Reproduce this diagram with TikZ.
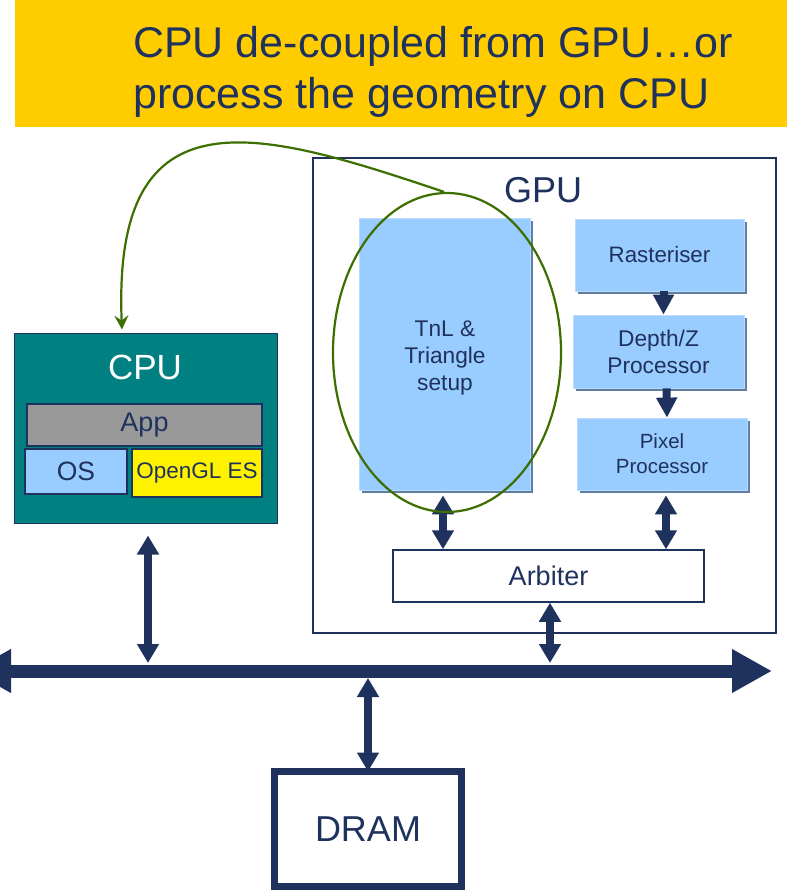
\documentclass[tikz,border=0pt]{standalone}
\usepackage{fontspec}
\setmainfont{Liberation Sans}
\usetikzlibrary{shapes.geometric, arrows.meta, positioning}
\definecolor{navy}{RGB}{31,50,94}
\definecolor{banner}{RGB}{255,204,0}
\definecolor{cputeal}{RGB}{0,128,128}
\definecolor{unitblue}{RGB}{153,204,255}
\definecolor{unitshade}{RGB}{96,126,160}
\definecolor{appgray}{RGB}{153,153,153}
\definecolor{loopgreen}{RGB}{60,110,0}
\tikzset{
    x=1pt, y=-1pt, % pixel units, y grows downwards
    every node/.style={inner sep=0pt, text=navy, align=center}, % plain text nodes
    sized/.style 2 args={minimum width=#1pt, minimum height=#2pt}, % box size
    frame/.style={draw=navy, line width=1.5pt}, % thin dark outline
    unit/.style={fill=unitblue, draw=unitblue!70!white, line width=0.8pt,
        preaction={fill=unitshade, transform canvas={shift={(3pt,-3pt)}}}}, % shaded GPU stage
    flow/.style={draw=navy, line width=8pt, -{Triangle[width=20pt,length=20pt]}}, % block arrow
    both/.style={draw=navy, line width=8pt, {Triangle[width=21pt,length=19pt]}-{Triangle[width=21pt,length=19pt]}}, % two-way arrow
}
\begin{document}
\begin{tikzpicture}
\useasboundingbox (0,0) rectangle (787,890);
% title banner
\node[fill=banner, sized={772}{127}] (banner) at (401,63.5) {};
\node[anchor=west, align=left, font=\fontsize{43}{51}\selectfont] (title) at (133,72)
    {CPU de-coupled from GPU…or\\process the geometry on CPU};

% CPU side
\node[frame, fill=cputeal, line width=1pt, sized={263}{190}] (cpu) at (145.5,428) {};
\node[text=white, font=\fontsize{35}{40}\selectfont] (cpulabel) at (145,367) {CPU};
\node[frame, fill=appgray, sized={235}{42}, font=\fontsize{27}{30}\selectfont] (app) at (144.5,425) {App};
\node[frame, fill=unitblue, sized={102}{45}, font=\fontsize{26.5}{30}\selectfont] (os) at (76,471.5) {OS};
\node[frame, fill=yellow, sized={130}{48}, font=\fontsize{22.5}{26}\selectfont] (gles) at (197,473) {OpenGL ES};

% GPU side
\node[frame, fill=white, sized={463}{475}] (gpu) at (544.5,395.5) {};
\node[font=\fontsize{36}{40}\selectfont] (gpulabel) at (543,190) {GPU};
\node[unit, sized={171}{272}] (tnl) at (444.5,354) {};
\node[font=\fontsize{22.7}{27}\selectfont] (tnltext) at (445,358) {TnL \&\\Triangle\\setup};
\node[unit, sized={169}{72}, font=\fontsize{22.3}{27}\selectfont] (rast) at (659.5,255) {Rasteriser};
\node[unit, sized={171}{73}, font=\fontsize{22.7}{27}\selectfont] (depth) at (658.5,351.5) {Depth/Z\\Processor};
\node[unit, sized={170}{72}, font=\fontsize{20.5}{25}\selectfont] (pixel) at (662,454) {Pixel\\Processor};
\node[frame, fill=white, sized={311}{52}, font=\fontsize{27}{30}\selectfont] (arbiter) at (548.5,576) {Arbiter};

% memory
\node[draw=navy, line width=7pt, sized={187}{115}, font=\fontsize{36}{40}\selectfont] (dram) at (368,829) {DRAM};

% bus
\coordinate (busL) at (-29,671);
\coordinate (busR) at (772,671);
\coordinate (bustop) at (0,663);
\coordinate (busbot) at (0,678);
\draw[navy, line width=13pt, {Triangle[width=41pt,length=40pt]}-{Triangle[width=41pt,length=40pt]}] (busL) -- (busR);

% pipeline arrows
\draw[flow] ([xshift=4pt]rast.south) -- ([xshift=5pt]depth.north);
\draw[flow] ([xshift=8pt]depth.south) -- ([xshift=5pt]pixel.north);
\draw[both] ([yshift=-5pt]tnl.south -| 443,0) -- (arbiter.north -| 443,0);
\draw[both] ([yshift=-5pt]pixel.south -| 666,0) -- (arbiter.north -| 666,0);
\draw[both] (arbiter.south -| 550,0) -- (bustop -| 550,0);
\draw[both] ([yshift=-12pt]cpu.south -| 148,0) -- (bustop -| 148,0);
\draw[both] (busbot -| dram.north) -- ([yshift=-3.5pt]dram.north);

% geometry moved onto the CPU
\node[draw=loopgreen, line width=2.2pt, ellipse, sized={228}{319}] (geo) at (447,352.5) {};
\draw[loopgreen, line width=2.2pt, -{Stealth[length=14pt,width=14pt,inset=5pt]}]
    ([xshift=-3pt]geo.north) .. controls (260,130) and (112,85) .. ([xshift=-23.5pt,yshift=3pt]cpu.north);
\end{tikzpicture}
\end{document}
